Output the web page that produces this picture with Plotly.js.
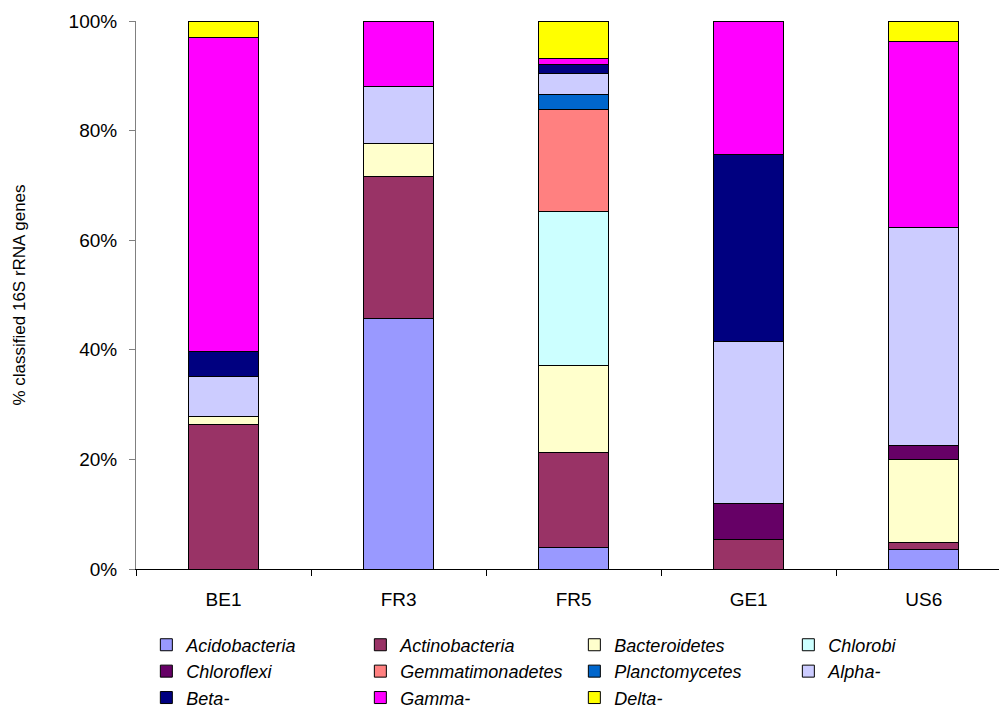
<!DOCTYPE html>
<html>
<head>
<meta charset="utf-8">
<script src="https://cdn.plot.ly/plotly-3.0.1.min.js"></script>
<style>html,body{margin:0;padding:0;background:#fff;}#chart{width:999px;height:708px;}</style>
</head>
<body>
<div id="chart"></div>
<script>
const samples = ["BE1", "FR3", "FR5", "GE1", "US6"];

const acidobacteria    = [0.0, 45.7, 3.9, 0.0, 3.6];
const actinobacteria   = [26.4, 25.9, 17.3, 5.3, 1.3];
const bacteroidetes    = [1.5, 6.0, 16.0, 0.0, 15.0];
const chlorobi         = [0.0, 0.0, 28.0, 0.0, 0.0];
const chloroflexi      = [0.0, 0.0, 0.0, 6.7, 2.6];
const gemmatimonadetes = [0.0, 0.0, 18.7, 0.0, 0.0];
const planctomycetes   = [0.0, 0.0, 2.6, 0.0, 0.0];
const alpha            = [7.3, 10.5, 4.0, 29.6, 39.9];
const beta             = [4.5, 0.0, 1.5, 34.1, 0.0];
const gamma            = [57.2, 11.9, 1.2, 24.3, 33.8];
const delta            = [3.1, 0.0, 6.8, 0.0, 3.8];

const yTickVals = [0, 20, 40, 60, 80, 100];
const yTickText = ["0%", "20%", "40%", "60%", "80%", "100%"];

const seriesDefs = [
  ["Acidobacteria", acidobacteria, "#9999FF"],
  ["Actinobacteria", actinobacteria, "#993366"],
  ["Bacteroidetes", bacteroidetes, "#FFFFCC"],
  ["Chlorobi", chlorobi, "#CCFFFF"],
  ["Chloroflexi", chloroflexi, "#660066"],
  ["Gemmatimonadetes", gemmatimonadetes, "#FF8080"],
  ["Planctomycetes", planctomycetes, "#0066CC"],
  ["Alpha-", alpha, "#CCCCFF"],
  ["Beta-", beta, "#000080"],
  ["Gamma-", gamma, "#FF00FF"],
  ["Delta-", delta, "#FFFF00"]
];

const traces = seriesDefs.map(([name, vals, color]) => ({
  type: "bar",
  name: name,
  x: samples,
  y: vals,
  width: 0.4,
  marker: {color: color, line: {color: "#000000", width: 1}},
  hoverinfo: "name+y"
}));

const layout = {
  width: 999,
  height: 708,
  barmode: "stack",
  paper_bgcolor: "#ffffff",
  plot_bgcolor: "#ffffff",
  font: {family: "Arial, Liberation Sans, sans-serif", color: "#000000", size: 18},
  margin: {l: 136, r: 0, t: 21, b: 139, pad: 0, autoexpand: false},
  xaxis: {
    type: "category",
    range: [-0.5, 4.43],
    showline: true,
    linecolor: "#000000",
    linewidth: 1,
    ticks: "outside",
    tickson: "boundaries",
    ticklen: 6,
    tickcolor: "#000000",
    showgrid: false,
    zeroline: false,
    tickfont: {size: 19},
    ticklabelstandoff: 13,
    fixedrange: true
  },
  yaxis: {
    range: [0, 100],
    tickvals: yTickVals,
    ticktext: yTickText,
    showline: true,
    linecolor: "#808080",
    linewidth: 1,
    ticks: "outside",
    ticklen: 6,
    tickcolor: "#808080",
    showgrid: false,
    zeroline: false,
    tickfont: {size: 19},
    ticklabelstandoff: 8,
    title: {text: "% classified 16S rRNA genes", font: {size: 17}, standoff: 38},
    automargin: false,
    fixedrange: true
  },
  showlegend: true,
  legend: {
    orientation: "h",
    x: 0.012,
    xanchor: "left",
    y: -0.105,
    yanchor: "top",
    traceorder: "normal",
    entrywidth: 169,
    entrywidthmode: "pixels",
    font: {size: 18, style: "italic"},
    bgcolor: "rgba(0,0,0,0)",
    itemclick: false,
    itemdoubleclick: false
  }
};

Plotly.newPlot("chart", traces, layout, {displayModeBar: false, staticPlot: true});
</script>
</body>
</html>
